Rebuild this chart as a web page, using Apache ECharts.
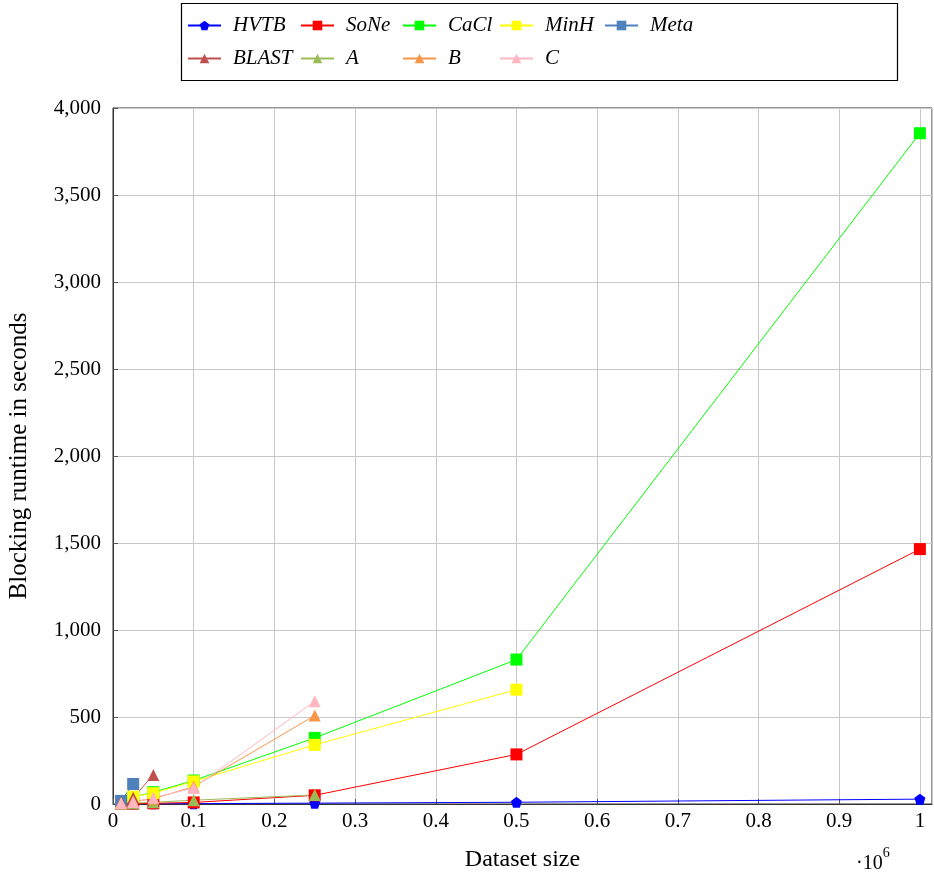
<!DOCTYPE html>
<html>
<head>
<meta charset="utf-8">
<script src="https://cdn.jsdelivr.net/npm/echarts@6/dist/echarts.min.js"></script>
<style>
  html, body { margin: 0; padding: 0; background: #fff; }
  #chart { width: 934px; height: 879px; }
</style>
</head>
<body>
<div id="chart"></div>
<script>
// dataset sizes, in units of 10^6
const sizes = [0.01, 0.025, 0.05, 0.1, 0.25, 0.5, 1];

const hvtb  = [0.3, 0.6, 1.2, 2, 5, 10, 28];
const sone  = [1, 2, 4, 9, 50, 285, 1465];
const cacl  = [8, 40, 68, 135, 380, 830, 3855];
const minh  = [10, 42, 62, 130, 340, 657];
const meta  = [18, 115];
const blast = [8, 36, 167];
const serA  = [2, 5, 10, 22, 52];
const serB  = [5, 15, 30, 100, 508];
const serC  = [5, 12, 36, 92, 590];

const yTicks = [0, 500, 1000, 1500, 2000, 2500, 3000, 3500, 4000];

const pentagon = 'path://M0,-10 L9.51,-3.09 L5.88,8.09 L-5.88,8.09 L-9.51,-3.09 Z';
const serif = '"Liberation Serif", "DejaVu Serif", serif';

function pairs(vals) {
  return vals.map((v, i) => [sizes[i], v]);
}

const seriesDefs = [
  { name: 'HVTB',  data: hvtb,  color: '#0000ff', symbol: pentagon,   size: 11 },
  { name: 'SoNe',  data: sone,  color: '#ff0000', symbol: 'rect',     size: 12 },
  { name: 'CaCl',  data: cacl,  color: '#00ff00', symbol: 'rect',     size: 12 },
  { name: 'MinH',  data: minh,  color: '#ffff00', symbol: 'rect',     size: 12 },
  { name: 'Meta',  data: meta,  color: '#4f81bd', symbol: 'rect',     size: 12 },
  { name: 'BLAST', data: blast, color: '#c0504d', symbol: 'triangle', size: 12 },
  { name: 'A',     data: serA,  color: '#9bbb59', symbol: 'triangle', size: 12 },
  { name: 'B',     data: serB,  color: '#f79646', symbol: 'triangle', size: 12 },
  { name: 'C',     data: serC,  color: '#ffb6c1', symbol: 'triangle', size: 12 }
];

// legend slots: [left, top] of each item (legend has 5px padding)
const legendPos = [
  [182, 10], [295, 10], [397, 10], [494, 10], [599, 10],
  [182, 43], [295, 43], [397, 43], [494, 43]
];

const legends = seriesDefs.map((s, i) => ({
  data: [s.name],
  left: legendPos[i][0],
  top: legendPos[i][1],
  itemWidth: 33,
  itemHeight: 12,
  textStyle: {
    fontFamily: serif,
    fontStyle: 'italic',
    fontSize: 21,
    color: '#000',
    padding: [0, 0, 0, 7]
  }
}));

const chart = echarts.init(document.getElementById('chart'));
chart.setOption({
  animation: false,
  backgroundColor: '#fff',
  legend: legends,
  grid: {
    left: 113, top: 108, right: 2, bottom: 75,
    outerBoundsMode: 'none',
    containLabel: false,
    show: true, borderColor: '#333', borderWidth: 1
  },
  xAxis: {
    type: 'value',
    min: 0,
    max: 1.015,
    interval: 0.1,
    name: 'Dataset size',
    nameLocation: 'middle',
    nameGap: 44,
    nameTextStyle: { fontFamily: serif, fontSize: 24, color: '#000' },
    axisLine: { lineStyle: { color: '#333' } },
    axisTick: { inside: true, length: 5, lineStyle: { color: '#555' } },
    splitLine: { lineStyle: { color: '#c8c8c8' } },
    axisLabel: {
      fontFamily: serif, fontSize: 21, color: '#000', margin: 7,
      showMaxLabel: false,
      formatter: v => String(+v.toFixed(1))
    }
  },
  yAxis: {
    type: 'value',
    min: 0,
    max: yTicks[yTicks.length - 1],
    interval: 500,
    name: 'Blocking runtime in seconds',
    nameLocation: 'middle',
    nameGap: 81,
    nameRotate: 90,
    nameTextStyle: { fontFamily: serif, fontSize: 25, color: '#000' },
    axisLine: { show: true, lineStyle: { color: '#333' } },
    axisTick: { show: true, inside: true, length: 5, lineStyle: { color: '#555' } },
    splitLine: { lineStyle: { color: '#c8c8c8' } },
    axisLabel: {
      fontFamily: serif, fontSize: 21, color: '#000', margin: 12,
      formatter: v => v.toLocaleString('en-US')
    }
  },
  graphic: [
    {
      type: 'rect',
      shape: { x: 181.5, y: 3.5, width: 716, height: 77 },
      style: { fill: 'none', stroke: '#000', lineWidth: 1.2 },
      z: -1
    },
    {
      type: 'text',
      left: 856,
      top: 846,
      style: {
        text: '{a|·10}{b|6}',
        rich: {
          a: { fontFamily: serif, fontSize: 20, fill: '#000', padding: [8, 0, 0, 0] },
          b: { fontFamily: serif, fontSize: 14, fill: '#000', verticalAlign: 'top' }
        }
      }
    }
  ],
  series: seriesDefs.map(s => ({
    name: s.name,
    type: 'line',
    data: pairs(s.data),
    symbol: s.symbol,
    symbolSize: s.size,
    showAllSymbol: true,
    lineStyle: { color: s.color, width: 1 },
    itemStyle: { color: s.color, opacity: 1 }
  }))
});
</script>
</body>
</html>
